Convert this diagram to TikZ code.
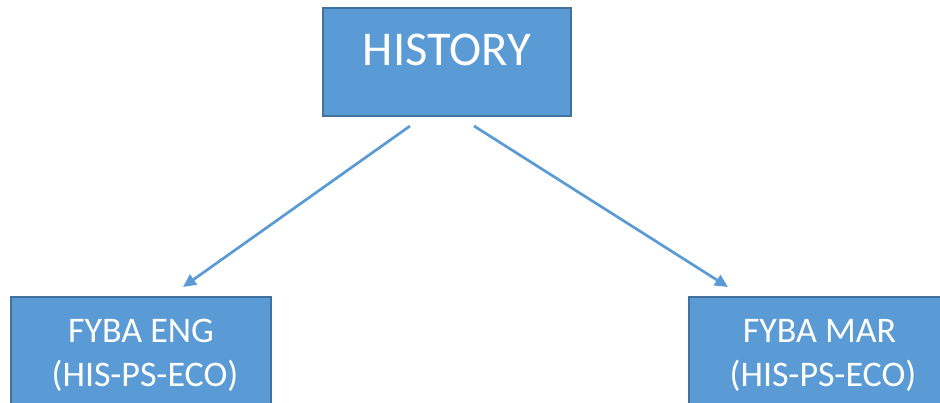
\documentclass[tikz,border=0pt]{standalone}
\usepackage{fontspec}
\setmainfont{Carlito}
\usetikzlibrary{arrows.meta,calc}
\definecolor{boxfill}{HTML}{5B9BD5}
\definecolor{boxline}{HTML}{41719C}
\begin{document}
\begin{tikzpicture}[x=1pt,y=-1pt,
  box/.style={draw=boxline,fill=boxfill,line width=2pt,rectangle,inner sep=0pt},
  txt/.style={text=white,inner sep=0pt,align=center},
  conn/.style={draw=boxfill,line width=2.7pt,-{Triangle[length=13pt,width=12pt]}}]
\useasboundingbox (0,0) rectangle (940,403);
\fill[white] (0,0) rectangle (940,403);
\node[box,minimum width=248pt,minimum height=108pt] (top) at (447,62) {};
\node[box,minimum width=260pt,minimum height=120pt] (left) at (141,357) {};
\node[box,minimum width=260pt,minimum height=120pt] (right) at (819,357) {};
\node[txt,anchor=base,font=\fontsize{48.5}{55}\selectfont] (ttop) at (447,66) {HISTORY};
\node[txt,anchor=base,font=\fontsize{36}{38.6}\selectfont] (tl1) at (141,343) {FYBA ENG};
\node[txt,anchor=base,font=\fontsize{36}{38.6}\selectfont] (tl2) at (145,386.5) {(HIS-PS-ECO)};
\node[txt,anchor=base,font=\fontsize{36}{38.6}\selectfont] (tr1) at (819.5,343) {FYBA MAR};
\node[txt,anchor=base,font=\fontsize{36}{38.6}\selectfont] (tr2) at (823,386.5) {(HIS-PS-ECO)};
\coordinate (s1) at ($(top.south)+(-37,9)$);
\coordinate (s2) at ($(top.south)+(27,9)$);
\coordinate (e1) at ($(left.north)+(42,-9)$);
\coordinate (e2) at ($(right.north)+(-91,-9)$);
\draw[conn] (s1) -- (e1);
\draw[conn] (s2) -- (e2);
\end{tikzpicture}
\end{document}
